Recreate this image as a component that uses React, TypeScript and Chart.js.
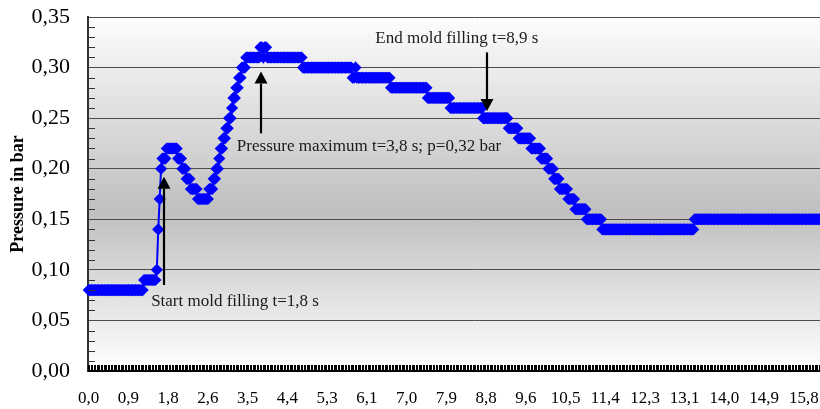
import React, { useEffect, useRef } from 'react';
import { Chart, registerables } from 'chart.js';

Chart.register(...registerables);

// Category (time) axis: one sample every 1/32 s, a label every 28 samples (0,875 s)
const xTickLabels = ['0,0', '0,9', '1,8', '2,6', '3,5', '4,4', '5,3', '6,1', '7,0', '7,9', '8,8', '9,6', '10,5', '11,4', '12,3', '13,1', '14,0', '14,9', '15,8', '16,6'];
const samplesPerLabel = 28;

// Pressure in bar, one row per 0,875 s
const pressure = [
  0.08, 0.08, 0.08, 0.08, 0.08, 0.08, 0.08, 0.08, 0.08, 0.08, 0.08, 0.08, 0.08, 0.08, 0.08, 0.08, 0.08, 0.08, 0.08, 0.08, 0.08, 0.08, 0.08, 0.08, 0.08, 0.08, 0.08, 0.08,
  0.08, 0.08, 0.08, 0.08, 0.08, 0.08, 0.08, 0.08, 0.08, 0.08, 0.08, 0.09, 0.09, 0.09, 0.09, 0.09, 0.09, 0.09, 0.09, 0.09, 0.10, 0.14, 0.17, 0.20, 0.21, 0.21, 0.21, 0.22,
  0.22, 0.22, 0.22, 0.22, 0.22, 0.22, 0.22, 0.21, 0.21, 0.21, 0.20, 0.20, 0.20, 0.19, 0.19, 0.19, 0.18, 0.18, 0.18, 0.18, 0.18, 0.17, 0.17, 0.17, 0.17, 0.17, 0.17, 0.17,
  0.17, 0.18, 0.18, 0.18, 0.19, 0.19, 0.20, 0.20, 0.21, 0.22, 0.22, 0.23, 0.23, 0.24, 0.24, 0.25, 0.25, 0.26, 0.27, 0.27, 0.28, 0.28, 0.29, 0.29, 0.30, 0.30, 0.30, 0.31,
  0.31, 0.31, 0.31, 0.31, 0.31, 0.31, 0.31, 0.31, 0.31, 0.32, 0.32, 0.31, 0.32, 0.32, 0.31, 0.31, 0.31, 0.31, 0.31, 0.31, 0.31, 0.31, 0.31, 0.31, 0.31, 0.31, 0.31, 0.31,
  0.31, 0.31, 0.31, 0.31, 0.31, 0.31, 0.31, 0.31, 0.31, 0.31, 0.31, 0.30, 0.30, 0.30, 0.30, 0.30, 0.30, 0.30, 0.30, 0.30, 0.30, 0.30, 0.30, 0.30, 0.30, 0.30, 0.30, 0.30,
  0.30, 0.30, 0.30, 0.30, 0.30, 0.30, 0.30, 0.30, 0.30, 0.30, 0.30, 0.30, 0.30, 0.30, 0.30, 0.30, 0.30, 0.30, 0.29, 0.29, 0.30, 0.29, 0.29, 0.29, 0.29, 0.29, 0.29, 0.29,
  0.29, 0.29, 0.29, 0.29, 0.29, 0.29, 0.29, 0.29, 0.29, 0.29, 0.29, 0.29, 0.29, 0.29, 0.29, 0.29, 0.29, 0.28, 0.28, 0.28, 0.28, 0.28, 0.28, 0.28, 0.28, 0.28, 0.28, 0.28,
  0.28, 0.28, 0.28, 0.28, 0.28, 0.28, 0.28, 0.28, 0.28, 0.28, 0.28, 0.28, 0.28, 0.28, 0.28, 0.27, 0.27, 0.27, 0.27, 0.27, 0.27, 0.27, 0.27, 0.27, 0.27, 0.27, 0.27, 0.27,
  0.27, 0.27, 0.27, 0.26, 0.26, 0.26, 0.26, 0.26, 0.26, 0.26, 0.26, 0.26, 0.26, 0.26, 0.26, 0.26, 0.26, 0.26, 0.26, 0.26, 0.26, 0.26, 0.26, 0.26, 0.26, 0.26, 0.25, 0.25,
  0.25, 0.25, 0.25, 0.25, 0.25, 0.25, 0.25, 0.25, 0.25, 0.25, 0.25, 0.25, 0.25, 0.25, 0.25, 0.25, 0.24, 0.24, 0.24, 0.24, 0.24, 0.24, 0.24, 0.23, 0.23, 0.23, 0.23, 0.23,
  0.23, 0.23, 0.23, 0.23, 0.22, 0.22, 0.22, 0.22, 0.22, 0.22, 0.22, 0.21, 0.21, 0.21, 0.21, 0.21, 0.20, 0.20, 0.20, 0.20, 0.19, 0.19, 0.19, 0.19, 0.18, 0.18, 0.18, 0.18,
  0.18, 0.18, 0.17, 0.17, 0.17, 0.17, 0.17, 0.16, 0.16, 0.16, 0.16, 0.16, 0.16, 0.16, 0.16, 0.15, 0.15, 0.15, 0.15, 0.15, 0.15, 0.15, 0.15, 0.15, 0.15, 0.15, 0.14, 0.14,
  0.14, 0.14, 0.14, 0.14, 0.14, 0.14, 0.14, 0.14, 0.14, 0.14, 0.14, 0.14, 0.14, 0.14, 0.14, 0.14, 0.14, 0.14, 0.14, 0.14, 0.14, 0.14, 0.14, 0.14, 0.14, 0.14, 0.14, 0.14,
  0.14, 0.14, 0.14, 0.14, 0.14, 0.14, 0.14, 0.14, 0.14, 0.14, 0.14, 0.14, 0.14, 0.14, 0.14, 0.14, 0.14, 0.14, 0.14, 0.14, 0.14, 0.14, 0.14, 0.14, 0.14, 0.14, 0.14, 0.14,
  0.14, 0.14, 0.14, 0.14, 0.14, 0.14, 0.14, 0.15, 0.15, 0.15, 0.15, 0.15, 0.15, 0.15, 0.15, 0.15, 0.15, 0.15, 0.15, 0.15, 0.15, 0.15, 0.15, 0.15, 0.15, 0.15, 0.15, 0.15,
  0.15, 0.15, 0.15, 0.15, 0.15, 0.15, 0.15, 0.15, 0.15, 0.15, 0.15, 0.15, 0.15, 0.15, 0.15, 0.15, 0.15, 0.15, 0.15, 0.15, 0.15, 0.15, 0.15, 0.15, 0.15, 0.15, 0.15, 0.15,
  0.15, 0.15, 0.15, 0.15, 0.15, 0.15, 0.15, 0.15, 0.15, 0.15, 0.15, 0.15, 0.15, 0.15, 0.15, 0.15, 0.15, 0.15, 0.15, 0.15, 0.15, 0.15, 0.15, 0.15, 0.15, 0.15, 0.15, 0.15,
  0.15, 0.15, 0.15, 0.15, 0.15, 0.15, 0.15, 0.15, 0.15, 0.15, 0.15, 0.15, 0.15, 0.15, 0.15, 0.15, 0.15, 0.15, 0.15, 0.15, 0.15, 0.15, 0.15, 0.15, 0.15, 0.15, 0.15, 0.15,
  0.15, 0.15, 0.15, 0.15, 0.15, 0.15, 0.15, 0.15, 0.15, 0.15, 0.15, 0.15,
];

const categories = pressure.map((_, i) => String(i));

// Annotations (anchored in data coordinates: sample index, pressure)
const noteTexts = ['Start mold filling t=1,8 s', 'Pressure maximum t=3,8 s; p=0,32 bar', 'End mold filling t=8,9 s'];
const noteTextIndex = [44, 104.4, 202];
const noteTextValue = [0.064, 0.218, 0.324];
const arrowIndex = [53, 121.6, 281];
const arrowFromValue = [0.085, 0.235, 0.315];
const arrowTipValue = [0.192, 0.296, 0.257];

const SERIF = '"Liberation Serif", "Times New Roman", serif';

const backgroundPlugin = {
  id: 'plotBackground',
  beforeDraw(chart: any) {
    const { ctx, chartArea: a } = chart;
    const g = ctx.createLinearGradient(0, a.top, 0, a.bottom);
    g.addColorStop(0, '#fdfdfd');
    g.addColorStop(0.55, '#bfbfbf');
    g.addColorStop(1, '#ffffff');
    ctx.save();
    ctx.fillStyle = g;
    ctx.fillRect(a.left, a.top, a.right - a.left, a.bottom - a.top);
    ctx.restore();
  },
};

const minorTicksPlugin = {
  id: 'minorTicks',
  afterDraw(chart: any) {
    const { ctx, chartArea: a } = chart;
    const xs = chart.scales.x;
    const ys = chart.scales.y;
    ctx.save();
    ctx.strokeStyle = '#333';
    ctx.lineWidth = 1;
    ctx.beginPath();
    for (let k = 1; k < 35; k++) {
      if (k % 5 === 0) continue;
      const y = Math.round(ys.getPixelForValue(k / 100)) + 0.5;
      ctx.moveTo(a.left, y);
      ctx.lineTo(a.left + 7, y);
    }
    ctx.stroke();
    ctx.strokeStyle = '#000';
    ctx.beginPath();
    for (let i = 0; i <= pressure.length; i++) {
      const x = Math.round(xs.getPixelForValue(i - 0.5)) + 0.5;
      ctx.moveTo(x, a.bottom - 6);
      ctx.lineTo(x, a.bottom + 1);
    }
    ctx.stroke();
    ctx.restore();
  },
};

const annotationPlugin = {
  id: 'notes',
  afterDatasetsDraw(chart: any) {
    const { ctx } = chart;
    const xs = chart.scales.x;
    const ys = chart.scales.y;
    ctx.save();
    for (let n = 0; n < noteTexts.length; n++) {
      const ax = Math.round(xs.getPixelForValue(arrowIndex[n]));
      const y0 = ys.getPixelForValue(arrowFromValue[n]);
      const y1 = ys.getPixelForValue(arrowTipValue[n]);
      const dir = y1 > y0 ? 1 : -1;
      const head = 12;
      ctx.strokeStyle = '#000';
      ctx.fillStyle = '#000';
      ctx.lineWidth = 2.2;
      ctx.beginPath();
      ctx.moveTo(ax, y0);
      ctx.lineTo(ax, y1 - dir * head);
      ctx.stroke();
      ctx.beginPath();
      ctx.moveTo(ax, y1);
      ctx.lineTo(ax - 6.5, y1 - dir * head);
      ctx.lineTo(ax + 6.5, y1 - dir * head);
      ctx.closePath();
      ctx.fill();

      ctx.fillStyle = '#1a1a1a';
      ctx.font = `17px ${SERIF}`;
      ctx.textAlign = 'left';
      ctx.textBaseline = 'alphabetic';
      ctx.fillText(noteTexts[n], xs.getPixelForValue(noteTextIndex[n]), ys.getPixelForValue(noteTextValue[n]));
    }
    ctx.restore();
  },
};

export default function App() {
  const ref = useRef<HTMLCanvasElement | null>(null);

  useEffect(() => {
    if (!ref.current) return;
    const chart = new Chart(ref.current, {
      type: 'line',
      data: {
        labels: categories,
        datasets: [
          {
            data: pressure,
            borderColor: '#0000ff',
            borderWidth: 2,
            backgroundColor: '#0000ff',
            pointStyle: 'rectRot',
            pointRadius: 5,
            pointBorderWidth: 1.5,
            pointBackgroundColor: '#0000ff',
            pointBorderColor: '#0000ff',
            tension: 0,
            fill: false,
          },
        ],
      },
      options: {
        responsive: false,
        devicePixelRatio: 1,
        animation: false,
        events: [],
        layout: { padding: { top: 17, right: 10, left: 0, bottom: 0 } },
        plugins: { legend: { display: false }, tooltip: { enabled: false } },
        scales: {
          x: {
            type: 'category',
            offset: true,
            grid: { display: false, drawTicks: false },
            border: { display: true, color: '#000', width: 2 },
            ticks: {
              autoSkip: false,
              maxRotation: 0,
              minRotation: 0,
              padding: 17,
              color: '#000',
              font: { family: SERIF, size: 17 },
              callback: (_v: any, i: number) => (i % samplesPerLabel === 0 ? xTickLabels[i / samplesPerLabel] ?? '' : ''),
            },
            afterFit: (s: any) => {
              s.height = 38;
              s.paddingLeft = 0;
              s.paddingRight = 0;
            },
          },
          y: {
            min: 0,
            max: 0.35,
            ticks: {
              stepSize: 0.05,
              padding: 18,
              color: '#000',
              font: { family: SERIF, size: 22 },
              callback: (v: any) => Number(v).toFixed(2).replace('.', ','),
            },
            grid: { color: '#4d4d4d', lineWidth: 1, drawTicks: false },
            border: { display: true, color: '#333', width: 2 },
            title: {
              display: true,
              text: 'Pressure in bar',
              color: '#000',
              font: { family: SERIF, size: 18, weight: 'bold' },
              padding: { top: 8, bottom: 0 },
            },
            afterFit: (s: any) => {
              s.width = 88;
              s.paddingTop = 0;
              s.paddingBottom = 0;
            },
          },
        },
      },
      plugins: [backgroundPlugin, minorTicksPlugin, annotationPlugin],
    } as any);
    return () => chart.destroy();
  }, []);

  return (
    <div style={{ position: 'fixed', left: 0, top: 0, width: 820, height: 409, overflow: 'hidden', background: '#fff' }}>
      <canvas ref={ref} width={870} height={409} style={{ display: 'block', width: 870, height: 409 }} />
    </div>
  );
}
